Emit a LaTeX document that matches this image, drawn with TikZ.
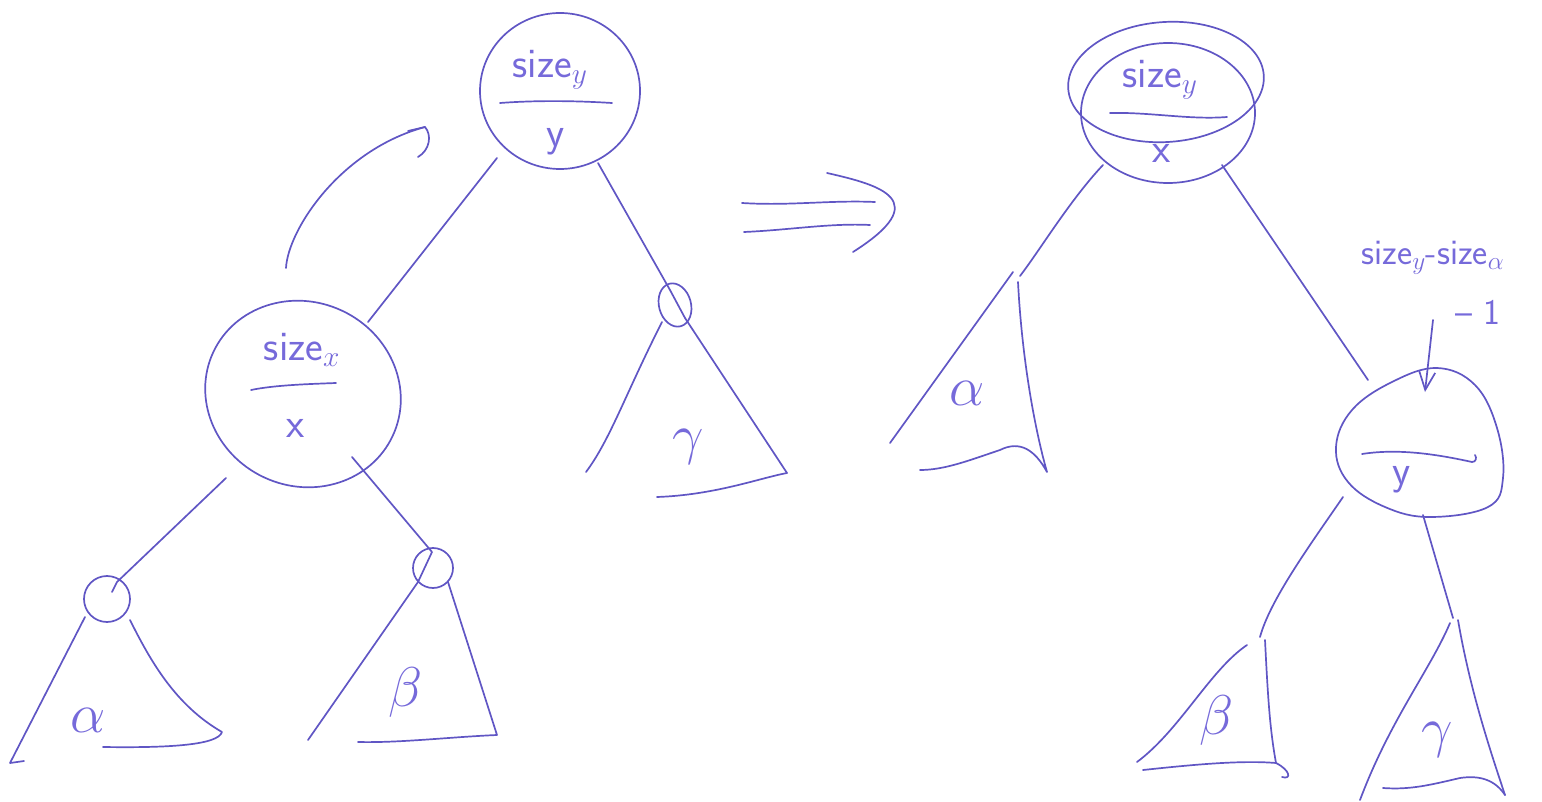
\RequirePackage{fix-cm}
\documentclass[tikz,border=0pt]{standalone}
\usepackage{fontspec}
\usetikzlibrary{arrows.meta}
\definecolor{inkc}{RGB}{96,86,196}
\definecolor{textc}{RGB}{118,106,218}
\tikzset{
  ink/.style={draw=inkc, line width=1.7pt, line cap=round, line join=round},
  hand/.style={text=textc, font=\sffamily\fontsize{42}{46}\selectfont, inner sep=0pt},
  small hand/.style={text=textc, font=\sffamily\fontsize{36}{40}\selectfont, inner sep=0pt},
  greek/.style={text=textc, font=\fontsize{56}{60}\selectfont, inner sep=0pt},
}
\begin{document}
\begin{tikzpicture}[x=1pt, y=-1pt]
\useasboundingbox (0,0) rectangle (1542,802);

% ---------------- left tree ----------------
% root y
\draw[ink] (560,91) ellipse [x radius=80, y radius=78];
\node[hand] (yLsize) at (550,70) {size$_y$};
\draw[ink] (500,103) .. controls (540,100) and (580,101) .. (612,103);
\node[hand] (yLname) at (556,142) {y};
\coordinate (yLsw) at (497,158);
\coordinate (yLse) at (598,163);

% child x
\draw[ink, rotate around={-25:(303,394)}] (303,394) ellipse [x radius=99, y radius=92];
\node[hand] (xLsize) at (302,350) {size$_x$};
\draw[ink] (251,390) .. controls (275,385) and (310,384) .. (336,383);
\node[hand] (xLname) at (296,428) {x};
\coordinate (xLne) at (368,322);
\coordinate (xLsw) at (226,478);
\coordinate (xLse) at (352,457);

% rotation arrow
\coordinate (rotA) at (286,268);
\coordinate (rotB) at (425,127);
\draw[ink] (rotA) .. controls (288,230) and (340,150) .. (rotB)
  .. controls (432,135) and (430,150) .. (418,157);
\draw[ink] (408,131) -- (rotB);

\draw[ink] (yLsw) -- (xLne);

% subtree gamma (left)
\draw[ink, rotate around={15:(675,305)}] (675,305) ellipse [x radius=16, y radius=22];
\coordinate (gLtop) at (670,290);
\draw[ink] (yLse) -- (gLtop) -- (685,318);
\coordinate (gLr) at (685,318);
\coordinate (gLl) at (662,322);
\draw[ink] (gLr) -- (787,473);
\draw[ink] (gLl) .. controls (625,395) and (610,440) .. (586,472);
\draw[ink] (787,473) .. controls (760,478) and (715,495) .. (657,497);
\node[greek] (gLlbl) at (688,447) {$\gamma$};

% subtree alpha (left)
\draw[ink] (107,599) circle [radius=23];
\coordinate (aLtop) at (117,582);
\draw[ink] (xLsw) -- (aLtop) -- (112,592);
\draw[ink] (85,617) -- (10,763) -- (24,761);
\draw[ink] (130,620) .. controls (150,660) and (175,705) .. (222,732)
  .. controls (218,745) and (170,748) .. (103,747);
\node[greek] (aLlbl) at (88,720) {$\alpha$};

% subtree beta (left)
\draw[ink] (433,568) circle [radius=20];
\coordinate (bLtop) at (432,552);
\draw[ink] (xLse) -- (bLtop) -- (418,582);
\draw[ink] (418,582) -- (308,740);
\draw[ink] (448,582) -- (497,735) .. controls (450,737) and (400,743) .. (358,742);
\node[greek] (bLlbl) at (406,692) {$\beta$};

% ---------------- implies arrow ----------------
\draw[ink] (742,203) .. controls (790,206) and (830,200) .. (875,202);
\draw[ink] (744,232) .. controls (790,230) and (830,223) .. (870,225);
\draw[ink] (827,173) .. controls (880,185) and (935,200) .. (853,252);

% ---------------- right tree ----------------
% root x (drawn twice)
\draw[ink, rotate around={4:(1166,82)}] (1166,82) ellipse [x radius=98, y radius=60];
\draw[ink] (1168,113) ellipse [x radius=87, y radius=70];
\node[hand] (xRsize) at (1160,80) {size$_y$};
\draw[ink] (1110,113) .. controls (1150,112) and (1190,120) .. (1227,117);
\node[hand] (xRname) at (1162,153) {x};
\coordinate (xRsw) at (1103,165);
\coordinate (xRse) at (1222,165);

% subtree alpha (right)
\coordinate (aRtop) at (1020,276);
\draw[ink] (xRsw) .. controls (1070,200) and (1040,250) .. (aRtop);
\draw[ink] (1013,272) -- (890,443);
\draw[ink] (1018,282) .. controls (1022,360) and (1035,430) .. (1047,472)
  .. controls (1035,450) and (1020,440) .. (1000,450)
  .. controls (970,460) and (945,470) .. (920,470);
\node[greek] (aRlbl) at (967,393) {$\alpha$};

% child y
\coordinate (yRnw) at (1368,380);
\draw[ink] (xRse) -- (yRnw);
\draw[ink] plot[smooth cycle, tension=0.65] coordinates
  {(1437,368)(1475,385)(1497,428)(1503,478)(1488,507)(1430,517)(1385,507)(1348,482)(1336,447)(1352,410)(1392,382)};
\draw[ink] (1362,454) .. controls (1400,448) and (1440,455) .. (1472,462) .. controls (1476,462) and (1477,458) .. (1475,455);
\node[hand] (yRname) at (1402,480) {y};
\coordinate (yRsw) at (1343,497);
\coordinate (yRse) at (1423,515);

% size label of y after the rotation
\node[small hand] (yRsize) at (1433,258) {size$_y$-size$_\alpha$};
\node[small hand] (yRminus) at (1478,312) {-- 1};
\coordinate (yRarr) at (1433,320);
\coordinate (yRtop) at (1425,392);
\draw[ink, -{Straight Barb[length=18pt, width=16pt]}] (yRarr) -- (yRtop);

% subtree beta (right)
\coordinate (bRtop) at (1260,637);
\draw[ink] (yRsw) .. controls (1310,545) and (1270,600) .. (bRtop);
\draw[ink] (1247,645) .. controls (1210,670) and (1180,730) .. (1137,762);
\draw[ink] (1265,640) .. controls (1268,700) and (1270,730) .. (1276,763);
\draw[ink] (1143,770) .. controls (1190,765) and (1240,760) .. (1276,763) .. controls (1290,770) and (1292,780) .. (1282,777);
\node[greek] (bRlbl) at (1217,720) {$\beta$};

% subtree gamma (right)
\coordinate (gRtop) at (1453,618);
\draw[ink] (yRse) -- (gRtop);
\draw[ink] (1450,623) .. controls (1430,670) and (1390,720) .. (1360,800);
\draw[ink] (1458,620) .. controls (1470,690) and (1490,750) .. (1505,795);
\draw[ink] (1505,795) .. controls (1495,780) and (1480,775) .. (1460,778) .. controls (1430,785) and (1410,790) .. (1383,788);
\node[greek] (gRlbl) at (1437,740) {$\gamma$};
\end{tikzpicture}
\end{document}
